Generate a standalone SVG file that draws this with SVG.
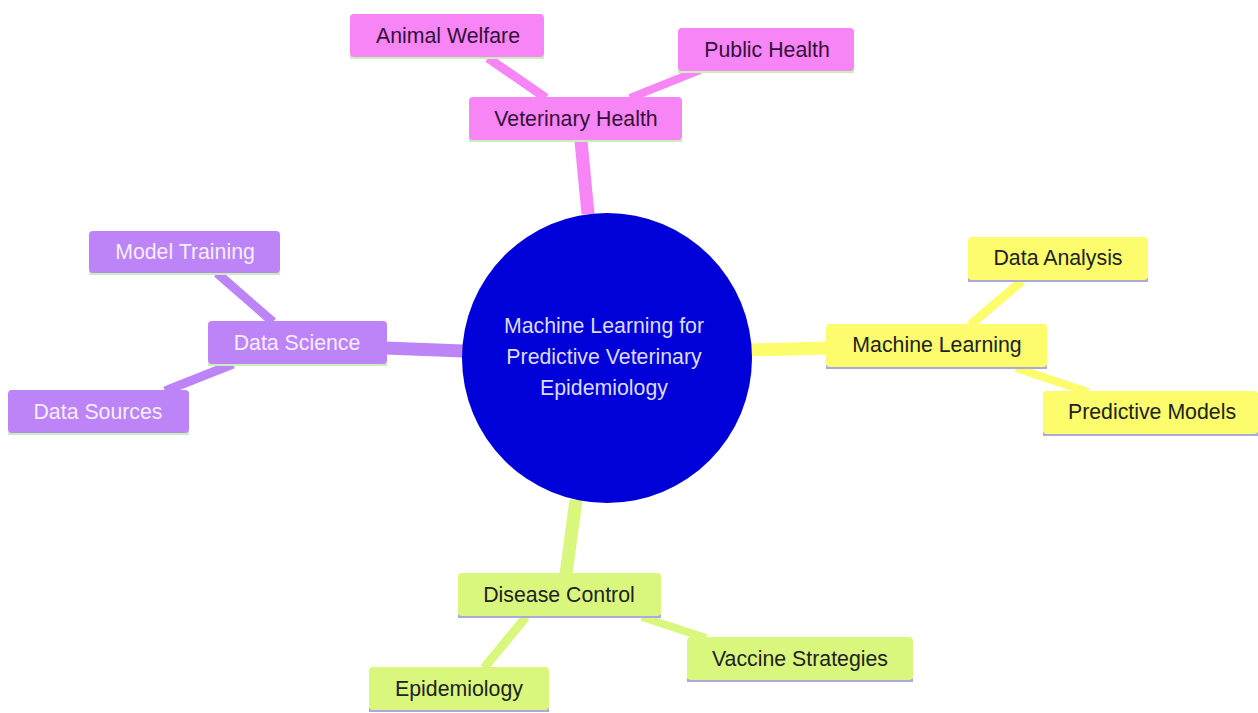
<svg xmlns="http://www.w3.org/2000/svg" width="1258" height="713" viewBox="0 0 1258 713">
<style>
text{font-family:"Liberation Sans",Arial,sans-serif;font-size:21.3px;text-anchor:middle}
.pk{fill:#f885f5}.pu{fill:#bc84f7}.ye{fill:#fcfc6c}.gr{fill:#daf77d}
.lg{fill:#c9f0b8}.lv{fill:#aaaadf}
.tpk{fill:#33103a}.tpu{fill:#f5eeff}.tye{fill:#222}.tgr{fill:#222}
.e{fill:none;stroke-linecap:butt}
.epk{stroke:#f885f5}.epu{stroke:#bc84f7}.eye{stroke:#fcfc6c}.egr{stroke:#daf77d}
</style>
<rect width="1258" height="713" fill="#ffffff"/>
<g id="connectors">
<line class="e epk" x1="581" y1="141" x2="588" y2="214" stroke-width="13"/>
<line class="e epu" x1="385" y1="348" x2="463" y2="351" stroke-width="13"/>
<line class="e eye" x1="749" y1="350" x2="828" y2="348" stroke-width="13"/>
<line class="e egr" x1="576" y1="500" x2="566" y2="574" stroke-width="13"/>
<line class="e epk" x1="488" y1="58" x2="546" y2="98" stroke-width="9"/>
<line class="e epk" x1="700" y1="70" x2="630" y2="98" stroke-width="8"/>
<line class="e epu" x1="217" y1="273" x2="273" y2="322" stroke-width="9"/>
<line class="e epu" x1="233" y1="364" x2="165" y2="391" stroke-width="9"/>
<line class="e eye" x1="1022" y1="281" x2="970" y2="325" stroke-width="9"/>
<line class="e eye" x1="1016" y1="368" x2="1088" y2="392" stroke-width="8"/>
<line class="e egr" x1="526" y1="617" x2="484" y2="668" stroke-width="9"/>
<line class="e egr" x1="642" y1="617" x2="706" y2="638" stroke-width="8"/>
</g>
<g id="root">
<circle cx="607" cy="358" r="145" fill="#0000d9"/>
<text x="604" y="333" fill="#dcdcfa">Machine Learning for</text>
<text x="604" y="364" fill="#dcdcfa">Predictive Veterinary</text>
<text x="604" y="395" fill="#dcdcfa">Epidemiology</text>
</g>
<g id="veterinary-health">
<rect class="lg" x="469" y="138" width="213" height="4"/>
<rect class="pk" x="469" y="97" width="213" height="43" rx="4"/>
<text class="tpk" x="576" y="126">Veterinary Health</text>
</g>
<g id="animal-welfare">
<rect class="lg" x="350" y="55" width="194" height="4"/>
<rect class="pk" x="350" y="14" width="194" height="43" rx="4"/>
<text class="tpk" x="448" y="43">Animal Welfare</text>
</g>
<g id="public-health">
<rect class="lg" x="678" y="69" width="176" height="4"/>
<rect class="pk" x="678" y="28" width="176" height="43" rx="4"/>
<text class="tpk" x="767" y="57">Public Health</text>
</g>
<g id="data-science">
<rect class="lg" x="208" y="362" width="179" height="4"/>
<rect class="pu" x="208" y="321" width="179" height="43" rx="4"/>
<text class="tpu" x="297" y="350">Data Science</text>
</g>
<g id="model-training">
<rect class="lg" x="89" y="271" width="191" height="4"/>
<rect class="pu" x="89" y="231" width="191" height="42" rx="4"/>
<text class="tpu" x="185" y="259">Model Training</text>
</g>
<g id="data-sources">
<rect class="lg" x="8" y="431" width="181" height="4"/>
<rect class="pu" x="8" y="390" width="181" height="43" rx="4"/>
<text class="tpu" x="98" y="419">Data Sources</text>
</g>
<g id="machine-learning">
<rect class="lv" x="826" y="365" width="221" height="4"/>
<rect class="ye" x="826" y="324" width="221" height="43" rx="4"/>
<text class="tye" x="937" y="352">Machine Learning</text>
</g>
<g id="data-analysis">
<rect class="lv" x="968" y="278" width="180" height="4"/>
<rect class="ye" x="968" y="237" width="180" height="43" rx="4"/>
<text class="tye" x="1058" y="265">Data Analysis</text>
</g>
<g id="predictive-models">
<rect class="lv" x="1043" y="432" width="215" height="4"/>
<rect class="ye" x="1043" y="391" width="215" height="43" rx="4"/>
<text class="tye" x="1152" y="419">Predictive Models</text>
</g>
<g id="disease-control">
<rect class="lv" x="458" y="614" width="203" height="4"/>
<rect class="gr" x="458" y="573" width="203" height="43" rx="4"/>
<text class="tgr" x="559" y="602">Disease Control</text>
</g>
<g id="epidemiology">
<rect class="lv" x="369" y="708" width="180" height="4"/>
<rect class="gr" x="369" y="667" width="180" height="43" rx="4"/>
<text class="tgr" x="459" y="696">Epidemiology</text>
</g>
<g id="vaccine-strategies">
<rect class="lv" x="687" y="678" width="226" height="4"/>
<rect class="gr" x="687" y="637" width="226" height="43" rx="4"/>
<text class="tgr" x="800" y="666">Vaccine Strategies</text>
</g>
</svg>
